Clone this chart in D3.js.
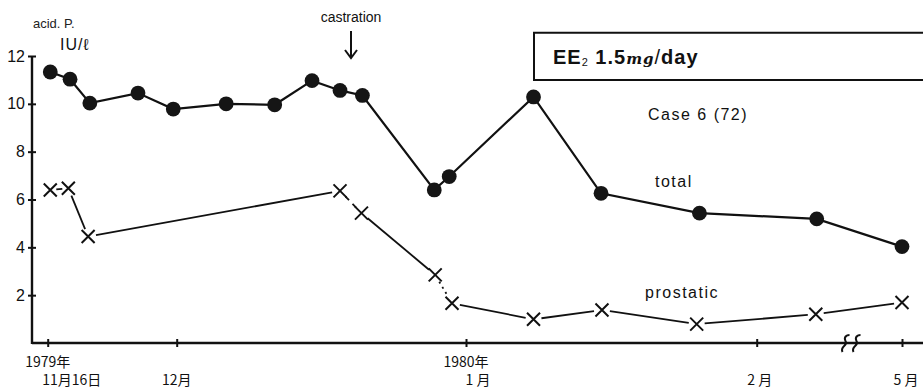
<!DOCTYPE html>
<html>
<head>
<meta charset="utf-8">
<script src="https://cdn.jsdelivr.net/npm/d3@7"></script>
<style>
  body { margin: 0; background: #fff; }
  svg { display: block; font-family: 'Liberation Sans', Arial, sans-serif; }
  .jp { font-family: 'Noto Sans CJK JP', sans-serif; }
</style>
</head>
<body>
<div id="chart"></div>
<script>
// days counted from 1979-11-16
const totalDays = [0.3, 2.6, 4.9, 10.5, 14.6, 20.3, 25.5, 29.5, 32.5, 34.9, 42.6, 44.2, 53.2, 60.4, 70.9, 83.4, 167];
const totalValues = [11.33, 11.03, 10.03, 10.45, 9.78, 10.0, 9.96, 10.97, 10.56, 10.35, 6.4, 6.96, 10.29, 6.26, 5.43, 5.19, 4.03];
const prostaticDays = [0.3, 2.4, 4.7, 32.5, 34.8, 42.7, 44.5, 53.2, 60.5, 70.6, 83.3, 167];
const prostaticValues = [6.4, 6.47, 4.45, 6.36, 5.43, 2.85, 1.66, 0.99, 1.38, 0.79, 1.2, 1.69];

const tickDays = [0, 15, 46, 77, 167];
const monthLabels = ['11月16日', '12月', '1 月', '2 月', '5 月'];
const yearLabels = ['1979年', '', '1980年', '', ''];
const yTicks = [2, 4, 6, 8, 10, 12];
const breakDay = 87;

const width = 923, height = 390;
const svg = d3.select('#chart').append('svg')
    .attr('width', width)
    .attr('height', height);

// piecewise scale: the axis is broken between February and May
const x = d3.scaleLinear()
    .domain([0, 15, 46, 77, breakDay, 167])
    .range([47.7, 176.7, 466, 756.7, 850.5, 902]);
const y = d3.scaleLinear().domain([0, 12]).range([343, 56]);
const axisX = 32;

// axes lines
svg.append('line')
    .attr('x1', axisX).attr('x2', width)
    .attr('y1', y(0)).attr('y2', y(0))
    .attr('stroke', '#111').attr('stroke-width', 2.4);
svg.append('line')
    .attr('x1', axisX).attr('x2', axisX)
    .attr('y1', y(0) + 1).attr('y2', y(12))
    .attr('stroke', '#111').attr('stroke-width', 2.4);

// y axis ticks
const yAxis = svg.append('g')
    .attr('transform', `translate(${axisX},0)`)
    .call(d3.axisLeft(y).tickValues(yTicks).tickSize(4).tickPadding(6));
yAxis.select('.domain').remove();
yAxis.selectAll('.tick line').attr('x1', -4).attr('x2', 4)
    .attr('stroke', '#111').attr('stroke-width', 2);
yAxis.selectAll('.tick text')
    .attr('x', -7)
    .style('font-family', "'Liberation Sans', Arial, sans-serif")
    .style('font-size', '16px')
    .attr('fill', '#111');

// x axis ticks
const xAxis = svg.append('g')
    .attr('transform', `translate(0,${y(0)})`)
    .call(d3.axisBottom(x).tickValues(tickDays).tickFormat('').tickSize(4));
xAxis.select('.domain').remove();
xAxis.selectAll('.tick line').attr('y1', -4).attr('y2', 4)
    .attr('stroke', '#111').attr('stroke-width', 2);

// x labels (year line + month line)
const monthShift = [24, 0, 12, 3, 4];
tickDays.forEach((d, i) => {
    if (yearLabels[i]) {
        svg.append('text').attr('class', 'jp')
            .attr('x', x(d)).attr('y', 367)
            .attr('text-anchor', 'middle')
            .style('font-size', '14px').attr('fill', '#111')
            .text(yearLabels[i]);
    }
    svg.append('text').attr('class', 'jp')
        .attr('x', x(d) + monthShift[i]).attr('y', 385)
        .attr('text-anchor', 'middle')
        .style('font-size', '14px').attr('fill', '#111')
        .text(monthLabels[i]);
});

// axis break mark (two wavy strokes)
const bx = x(breakDay) - 5, by = y(0);
[0, 11].forEach(off => {
    const cx = bx + off;
    svg.append('path')
        .attr('d', `M${cx - 3},${by + 9} C${cx - 6},${by + 3} ${cx + 3},${by + 3} ${cx},${by - 2} C${cx - 2},${by - 6} ${cx + 1},${by - 8} ${cx + 4},${by - 8}`)
        .attr('fill', 'none').attr('stroke', '#111').attr('stroke-width', 2);
});

// total line
const total = totalDays.map((d, i) => [x(d), y(totalValues[i])]);
svg.append('path')
    .attr('d', d3.line()(total))
    .attr('fill', 'none')
    .attr('stroke', '#111')
    .attr('stroke-width', 2.2);
svg.selectAll('.dot')
    .data(total)
    .enter()
    .append('circle')
    .attr('class', 'dot')
    .attr('cx', d => d[0])
    .attr('cy', d => d[1])
    .attr('r', 7.4)
    .attr('fill', '#151515');

// prostatic line: separate segments, gap around each cross
const prost = prostaticDays.map((d, i) => [x(d), y(prostaticValues[i])]);
const segDash = [null, null, null, '5,5', null, '2,4', null, null, null, null, null];
const gap = 8;
for (let i = 0; i < prost.length - 1; i++) {
    const [x1, y1] = prost[i], [x2, y2] = prost[i + 1];
    const len = Math.hypot(x2 - x1, y2 - y1);
    const ux = (x2 - x1) / len, uy = (y2 - y1) / len;
    const g = Math.min(gap, len / 3);
    svg.append('line')
        .attr('x1', x1 + ux * g).attr('y1', y1 + uy * g)
        .attr('x2', x2 - ux * g).attr('y2', y2 - uy * g)
        .attr('stroke', '#111')
        .attr('stroke-width', 1.8)
        .attr('stroke-dasharray', segDash[i]);
}
const s = 6.5;
svg.selectAll('.cross')
    .data(prost)
    .enter()
    .append('path')
    .attr('class', 'cross')
    .attr('d', d => `M${d[0] - s},${d[1] - s}L${d[0] + s},${d[1] + s}M${d[0] + s},${d[1] - s}L${d[0] - s},${d[1] + s}`)
    .attr('stroke', '#111')
    .attr('stroke-width', 2);

// axis title
svg.append('text').attr('x', 33).attr('y', 28)
    .style('font-size', '13px').attr('fill', '#222').text('acid. P.');
svg.append('text').attr('x', 60).attr('y', 50)
    .style('font-size', '16px').style('letter-spacing', '1px')
    .attr('fill', '#111').text('IU/ℓ');

// castration marker
svg.append('text').attr('x', 351).attr('y', 22)
    .attr('text-anchor', 'middle')
    .style('font-size', '14px').attr('fill', '#111').text('castration');
svg.append('path')
    .attr('d', 'M351,31 L351,58 M345,50 L351,58 L357,50')
    .attr('fill', 'none').attr('stroke', '#111').attr('stroke-width', 2);

// treatment box (open on the right)
svg.append('path')
    .attr('d', `M${width},32.7 L534,32.7 L534,80 L${width},80`)
    .attr('fill', 'none').attr('stroke', '#111').attr('stroke-width', 2);
const ee = svg.append('text').attr('x', 553).attr('y', 64)
    .style('font-size', '20px').style('font-weight', 'bold')
    .style('letter-spacing', '1px').attr('fill', '#111');
ee.append('tspan').text('EE');
ee.append('tspan').attr('dy', 2).style('font-size', '11px').style('font-weight', 'normal').text('2');
ee.append('tspan').attr('dy', -2).text(' 1.5');
ee.append('tspan').style('font-size', '15px').style('font-style', 'italic')
    .style('font-family', "'DejaVu Serif', serif").text('mg');
ee.append('tspan').style('font-weight', 'normal').text('/');
ee.append('tspan').text('day');

// labels
svg.append('text').attr('x', 648).attr('y', 120)
    .style('font-size', '16px').style('letter-spacing', '1.5px')
    .attr('fill', '#111').text('Case 6 (72)');
svg.append('text').attr('x', 655).attr('y', 187)
    .style('font-size', '16px').style('letter-spacing', '1.5px')
    .attr('fill', '#111').text('total');
svg.append('text').attr('x', 645).attr('y', 298)
    .style('font-size', '16px').style('letter-spacing', '1.5px')
    .attr('fill', '#111').text('prostatic');
</script>
</body>
</html>
